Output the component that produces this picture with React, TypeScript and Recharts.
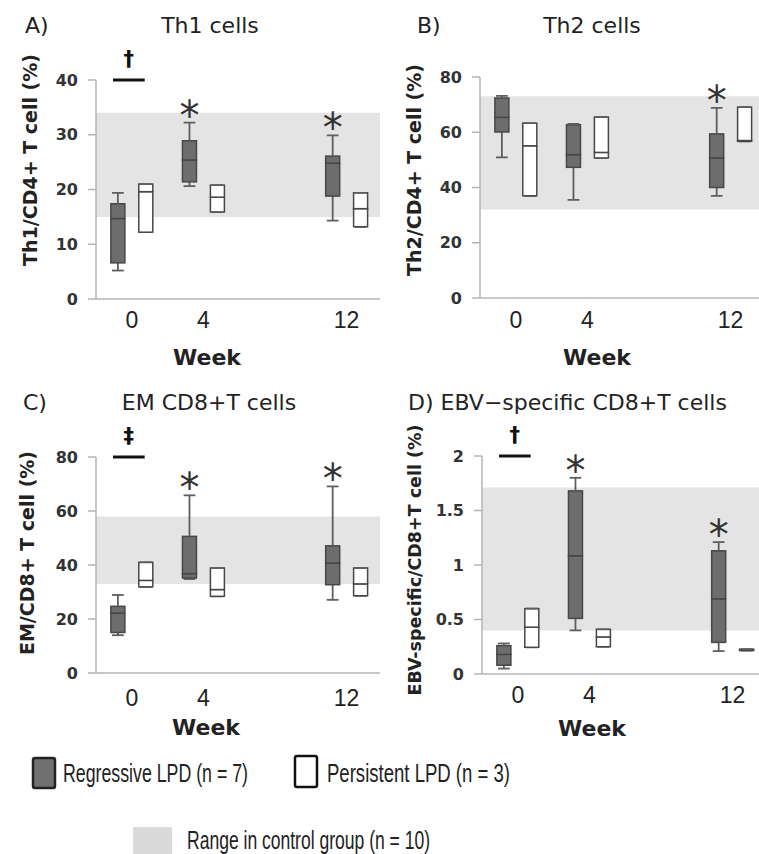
import { ComposedChart, Bar, XAxis, YAxis, ReferenceArea, ReferenceLine } from 'recharts'

// weeks after treatment, and the tick labels shown on every x axis
const WEEKS = [0, 4, 12]

// five-number summaries per week: [min, q1, median, q3, max]
const th1Regressive = [[5.2, 6.6, 14.7, 17.4, 19.4], [20.6, 21.4, 25.4, 28.9, 32.2], [14.3, 18.8, 24.8, 26.1, 29.9]]
const th1Persistent = [[12.2, 12.2, 19.6, 21.0, 21.0], [15.9, 15.9, 18.6, 20.8, 20.8], [13.2, 13.2, 16.5, 19.4, 19.4]]
const th1Control = [15, 34]
const th1Stars = [false, true, true]

const th2Regressive = [[50.9, 60.1, 65.4, 72.4, 73.2], [35.5, 47.3, 51.9, 62.7, 63.0], [37.0, 40.0, 50.7, 59.4, 68.8]]
const th2Persistent = [[37.0, 37.0, 55.1, 63.3, 63.3], [50.7, 50.7, 52.7, 65.5, 65.5], [56.7, 56.7, 57.0, 69.1, 69.1]]
const th2Control = [32, 73]
const th2Stars = [false, false, true]

const emRegressive = [[14.0, 15.0, 22.2, 24.7, 28.9], [34.8, 35.2, 36.8, 50.6, 65.8], [27.1, 32.7, 40.7, 47.1, 69.1]]
const emPersistent = [[31.9, 31.9, 34.3, 41.0, 41.0], [28.4, 28.4, 30.9, 38.9, 38.9], [28.6, 28.6, 33.0, 38.9, 38.9]]
const emControl = [33, 58]
const emStars = [false, true, true]

const ebvRegressive = [[0.05, 0.08, 0.18, 0.26, 0.28], [0.40, 0.51, 1.085, 1.68, 1.80], [0.21, 0.29, 0.69, 1.13, 1.21]]
const ebvPersistent = [[0.245, 0.245, 0.43, 0.60, 0.60], [0.25, 0.25, 0.34, 0.41, 0.41], [0.215, 0.215, 0.22, 0.228, 0.228]]
const ebvControl = [0.4, 1.71]
const ebvStars = [false, true, true]

const SANS = "'DejaVu Sans', sans-serif"
const NARROW = "'Liberation Sans', Arial, sans-serif"

const OFFSET = 0.78 // weeks between the two boxes of a time point and the tick
const PX_PER_WEEK = 17.9

type Row = { x: number; kind: string; star: boolean; base: number; lw: number; lb: number; ub: number; uw: number }

function toRow(x: number, kind: string, s: number[], star: boolean): Row {
  const [min, q1, med, q3, max] = s
  return { x, kind, star, base: min, lw: q1 - min, lb: med - q1, ub: q3 - med, uw: max - q3 }
}

function buildRows(reg: number[][], per: number[][], stars: boolean[]) {
  const rows: Row[] = []
  WEEKS.forEach((w, i) => {
    rows.push(toRow(w - OFFSET, 'R', reg[i], stars[i]))
    rows.push(toRow(w + OFFSET, 'P', per[i], false))
  })
  return rows
}

const Empty = () => <g />

function BoxPart(props: any) {
  const { x, y, width, height, payload } = props
  return (
    <rect x={x} y={y} width={width} height={Math.max(height, 0)}
      fill={payload.kind === 'R' ? '#6d6d6d' : '#ffffff'} stroke="#474747" strokeWidth={1.5} />
  )
}

function LowWhisker(props: any) {
  const { x, y, width, height } = props
  const cx = x + width / 2
  const cap = width * 0.42
  return (
    <g stroke="#5e5e5e" strokeWidth={1.8}>
      <line x1={cx} x2={cx} y1={y} y2={y + height} />
      <line x1={cx - cap} x2={cx + cap} y1={y + height} y2={y + height} />
    </g>
  )
}

function HighWhisker(props: any) {
  const { x, y, width, height, payload } = props
  const cx = x + width / 2
  const cap = width * 0.42
  return (
    <g>
      <g stroke="#5e5e5e" strokeWidth={1.8}>
        <line x1={cx} x2={cx} y1={y} y2={y + height} />
        <line x1={cx - cap} x2={cx + cap} y1={y} y2={y} />
      </g>
      {payload.star && (
        <text x={cx} y={y + 7} textAnchor="middle" fontSize={40} fontFamily={SANS} fill="#333">*</text>
      )}
    </g>
  )
}

interface PanelProps {
  plot: number[]
  yDomain: number[]
  yTicks: number[]
  rows: Row[]
  control: number[]
  mark?: string
  tickGap: number
}

function Panel({ plot, yDomain, yTicks, rows, control, mark, tickGap }: PanelProps) {
  const [left, top, width, height] = plot
  const padL = 80, padT = 45, padB = 50
  const xDomain = [-2, -2 + width / PX_PER_WEEK]
  return (
    <div style={{ position: 'absolute', left: left - padL, top: top - padT }}>
      <ComposedChart width={width + padL} height={height + padT + padB} data={rows}
        margin={{ top: padT, left: padL - 60, right: 0, bottom: padB - 40 }}>
        <ReferenceArea y1={control[0]} y2={control[1]} fill="#e4e4e4" fillOpacity={1} stroke="none" />
        <XAxis type="number" dataKey="x" domain={xDomain} ticks={WEEKS} allowDataOverflow height={40}
          axisLine={{ stroke: '#b4b4b4', strokeWidth: 1.5 }} tickLine={false} tickSize={0} tickMargin={tickGap}
          tick={{ fontFamily: NARROW, fontSize: 23, fill: '#222' }} />
        <YAxis type="number" domain={yDomain} ticks={yTicks} width={60} interval={0}
          axisLine={{ stroke: '#b4b4b4', strokeWidth: 1.5 }} tickLine={{ stroke: '#b4b4b4', strokeWidth: 1.5 }}
          tickSize={8} tickMargin={10}
          tick={{ fontFamily: SANS, fontSize: 16, fontWeight: 'bold', fill: '#333' }} />
        <Bar dataKey="base" stackId="box" barSize={14} isAnimationActive={false} shape={<Empty />} />
        <Bar dataKey="lw" stackId="box" barSize={14} isAnimationActive={false} shape={LowWhisker} />
        <Bar dataKey="lb" stackId="box" barSize={14} isAnimationActive={false} shape={BoxPart} />
        <Bar dataKey="ub" stackId="box" barSize={14} isAnimationActive={false} shape={BoxPart} />
        <Bar dataKey="uw" stackId="box" barSize={14} isAnimationActive={false} shape={HighWhisker} />
        {mark && (
          <ReferenceLine segment={[{ x: -1.05, y: yDomain[1] }, { x: 0.72, y: yDomain[1] }]}
            stroke="#111" strokeWidth={3} ifOverflow="visible"
            label={{ value: mark, position: 'top', offset: 14, fontSize: 21, fontWeight: 'bold', fill: '#111', fontFamily: SANS }} />
        )}
      </ComposedChart>
    </div>
  )
}

export default function App() {
  const title = { fontFamily: SANS, fontSize: 22, fill: '#222' }
  const ylab = { fontFamily: SANS, fontSize: 19, fontWeight: 'bold' as const, fill: '#222', textAnchor: 'middle' as const }
  const week = { fontFamily: SANS, fontSize: 22, fontWeight: 'bold' as const, fill: '#222', textAnchor: 'middle' as const }
  const legend = { fontFamily: NARROW, fontSize: 25, fill: '#222', lengthAdjust: 'spacingAndGlyphs' as const }
  return (
    <div style={{ position: 'absolute', left: 0, top: 0, width: 759, height: 854, background: '#fff', overflow: 'hidden' }}>
      <svg width={759} height={854} style={{ position: 'absolute', left: 0, top: 0 }}>
        <text x={25} y={33} {...title}>A)</text>
        <text x={210} y={33} textAnchor="middle" {...title}>Th1 cells</text>
        <text x={417} y={33} {...title}>B)</text>
        <text x={592} y={33} textAnchor="middle" {...title}>Th2 cells</text>
        <text x={23} y={410} {...title}>C)</text>
        <text x={209} y={410} textAnchor="middle" {...title}>EM CD8+T cells</text>
        <text x={408} y={410} {...title}>D) EBV−specific CD8+T cells</text>

        <text x={37} y={160} transform="rotate(-90 37 160)" {...ylab}>Th1/CD4+ T cell (%)</text>
        <text x={421} y={170} transform="rotate(-90 421 170)" {...ylab}>Th2/CD4+ T cell (%)</text>
        <text x={34} y={553} transform="rotate(-90 34 553)" {...ylab}>EM/CD8+ T cell (%)</text>
        <text x={421} y={560} transform="rotate(-90 421 560)" {...ylab} fontSize={17.5}>EBV-specific/CD8+T cell (%)</text>

        <text x={207} y={365} {...week}>Week</text>
        <text x={597} y={365} {...week}>Week</text>
        <text x={206} y={735} {...week}>Week</text>
        <text x={592} y={736} {...week}>Week</text>

        <rect x={33} y={758} width={22} height={30} rx={2} fill="#707070" stroke="#222" strokeWidth={2.5} />
        <text x={63} y={782} textLength={185} {...legend}>Regressive LPD (n = 7)</text>
        <rect x={295} y={756} width={22} height={31} rx={2} fill="#fff" stroke="#111" strokeWidth={2.5} />
        <text x={327} y={782} textLength={183} {...legend}>Persistent LPD (n = 3)</text>
        <rect x={133} y={827} width={39} height={30} fill="#dadada" />
        <text x={187} y={849} textLength={243} {...legend}>Range in control group (n = 10)</text>
      </svg>

      <Panel plot={[96, 80, 284, 219]} yDomain={[0, 40]} yTicks={[0, 10, 20, 30, 40]}
        rows={buildRows(th1Regressive, th1Persistent, th1Stars)} control={th1Control} mark="†" tickGap={13} />
      <Panel plot={[480, 77, 279, 221]} yDomain={[0, 80]} yTicks={[0, 20, 40, 60, 80]}
        rows={buildRows(th2Regressive, th2Persistent, th2Stars)} control={th2Control} tickGap={14} />
      <Panel plot={[96, 457, 284, 216]} yDomain={[0, 80]} yTicks={[0, 20, 40, 60, 80]}
        rows={buildRows(emRegressive, emPersistent, emStars)} control={emControl} mark="‡" tickGap={17} />
      <Panel plot={[482, 456, 277, 218]} yDomain={[0, 2]} yTicks={[0, 0.5, 1, 1.5, 2]}
        rows={buildRows(ebvRegressive, ebvPersistent, ebvStars)} control={ebvControl} mark="†" tickGap={13} />
    </div>
  )
}
